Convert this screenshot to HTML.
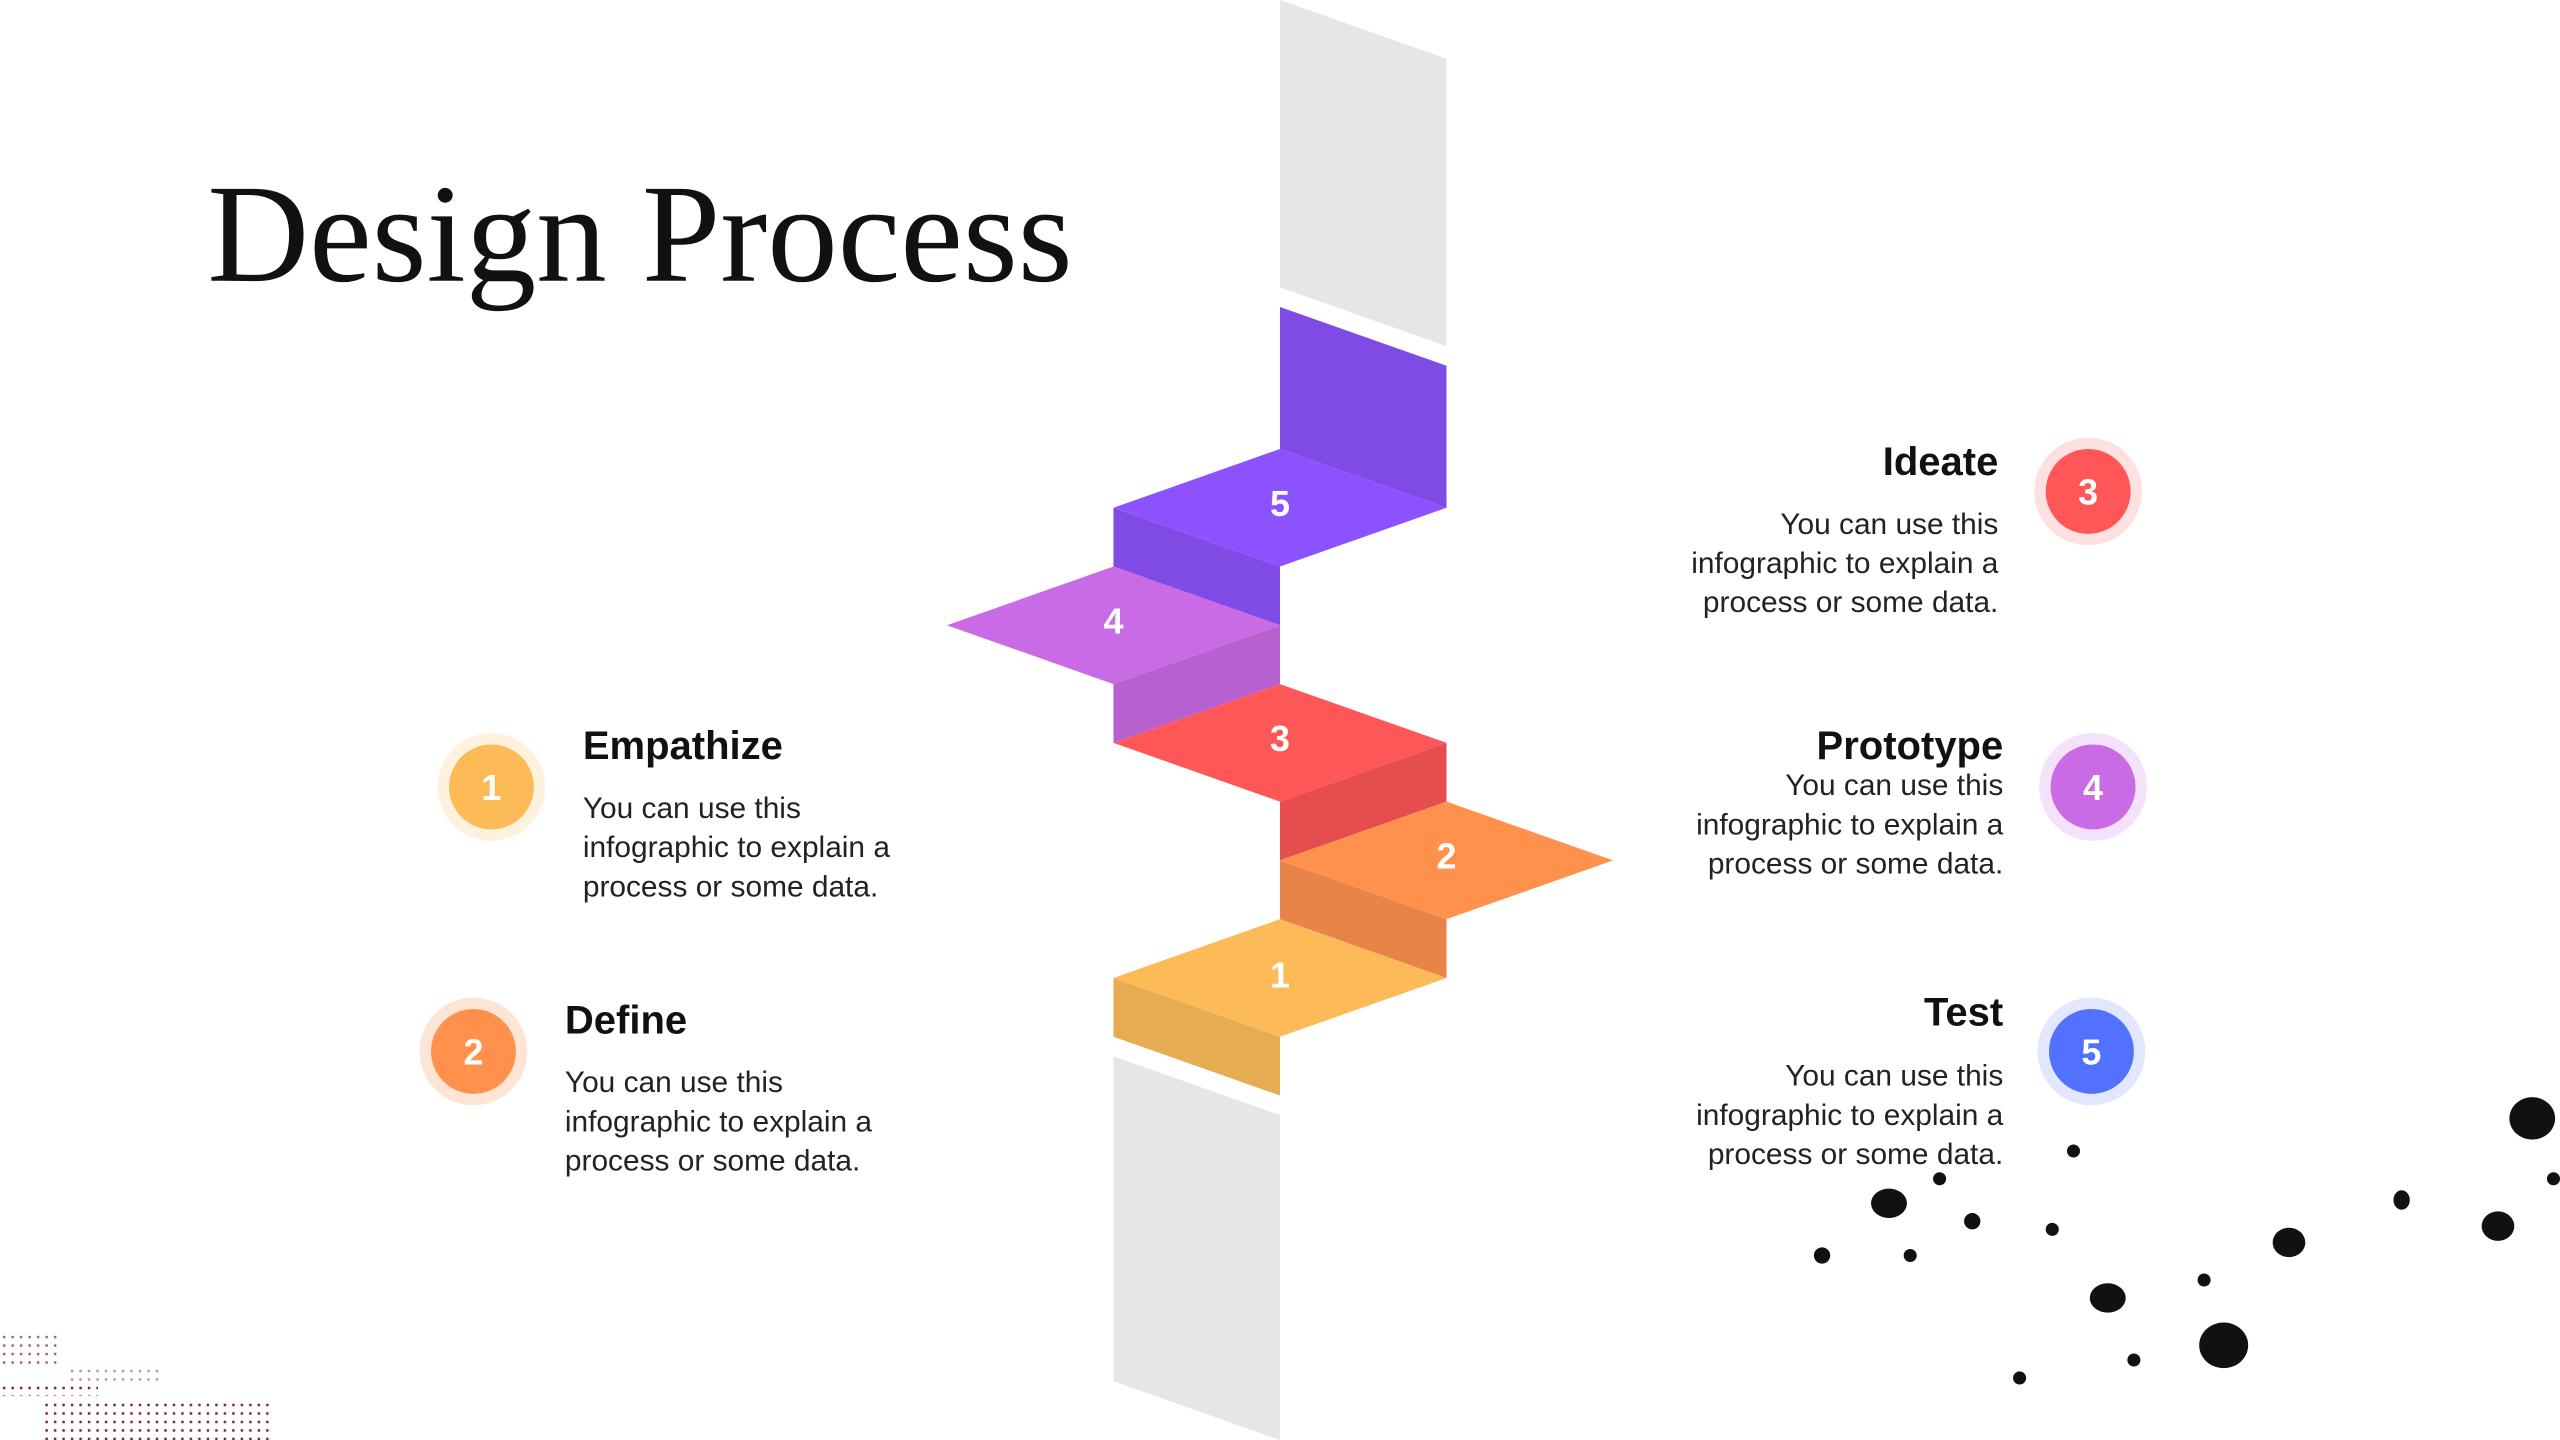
<!DOCTYPE html>
<html><head><meta charset="utf-8"><style>
html,body{margin:0;padding:0;background:#fff;}
svg{display:block;}
.h{font-family:"Liberation Sans",sans-serif;font-weight:bold;font-size:24.5px;fill:#111;}
.b{font-family:"Liberation Sans",sans-serif;font-size:18.3px;fill:#222;}
.n{font-family:"Liberation Sans",sans-serif;font-weight:bold;font-size:22px;fill:#fff;text-anchor:middle;}
</style></head><body>
<svg width="2560" height="1440" viewBox="0 0 1568 882" xmlns="http://www.w3.org/2000/svg">
<defs>
<pattern id="dp" width="5.2" height="5.2" patternUnits="userSpaceOnUse">
<rect x="1.8" y="1.8" width="1.5" height="1.5" fill="#7a1f3d"/>
</pattern>
</defs>
<rect width="1568" height="882" fill="#fff"/>
<text x="127" y="172" font-family="'Liberation Serif',serif" font-size="86" fill="#111" textLength="530" lengthAdjust="spacingAndGlyphs">Design Process</text>

<polygon points="784,0 886,36 886,212 784,176" fill="#e6e6e6"/>
<polygon points="682,647 784,683 784,882 682,846" fill="#e6e6e6"/>

<polygon points="784,188 886,224 886,311 784,275" fill="#804be4"/>
<polygon points="682,311 784,347 784,383 682,347" fill="#804be4"/>
<polygon points="682,311 784,275 886,311 784,347" fill="#8c52ff"/>
<polygon points="682,419 784,383 784,419 682,455" fill="#b761d1"/>
<polygon points="580,383 682,347 784,383 682,419" fill="#c96be5"/>
<polygon points="784,491 886,455 886,491 784,527" fill="#e64d4f"/>
<polygon points="682,455 784,419 886,455 784,491" fill="#ff5757"/>
<polygon points="784,527 886,563 886,599 784,563" fill="#e88447"/>
<polygon points="784,527 886,491 988,527 886,563" fill="#ff914d"/>
<polygon points="682,599 784,635 784,671 682,635" fill="#e6ac52"/>
<polygon points="682,599 784,563 886,599 784,635" fill="#fdbb58"/>
<text class="n" x="784" y="316">5</text>
<text class="n" x="682" y="388">4</text>
<text class="n" x="784" y="460">3</text>
<text class="n" x="886" y="532">2</text>
<text class="n" x="784" y="605">1</text>

<circle cx="301" cy="482" r="33" fill="#fef1dd"/><circle cx="301" cy="482" r="26" fill="#fdbb58"/><text class="n" x="301" y="490">1</text>
<circle cx="290" cy="644" r="33" fill="#fde5d6"/><circle cx="290" cy="644" r="26" fill="#ff914d"/><text class="n" x="290" y="652">2</text>
<circle cx="1279" cy="301" r="33" fill="#fde0e0"/><circle cx="1279" cy="301" r="26" fill="#ff5757"/><text class="n" x="1279" y="309">3</text>
<circle cx="1282" cy="482" r="33" fill="#f3e2f9"/><circle cx="1282" cy="482" r="26" fill="#c96be5"/><text class="n" x="1282" y="490">4</text>
<circle cx="1281" cy="644" r="33" fill="#e2e7fd"/><circle cx="1281" cy="644" r="26" fill="#5271ff"/><text class="n" x="1281" y="652">5</text>

<text class="h" x="357" y="465">Empathize</text>
<text class="b" x="357" y="501">You can use this</text>
<text class="b" x="357" y="525">infographic to explain a</text>
<text class="b" x="357" y="549">process or some data.</text>
<text class="h" x="346" y="633">Define</text>
<text class="b" x="346" y="669">You can use this</text>
<text class="b" x="346" y="693">infographic to explain a</text>
<text class="b" x="346" y="717">process or some data.</text>

<g text-anchor="end">
<text class="h" x="1224" y="291">Ideate</text>
<text class="b" x="1224" y="327">You can use this</text>
<text class="b" x="1224" y="351">infographic to explain a</text>
<text class="b" x="1224" y="375">process or some data.</text>
<text class="h" x="1227" y="465">Prototype</text>
<text class="b" x="1227" y="487">You can use this</text>
<text class="b" x="1227" y="511">infographic to explain a</text>
<text class="b" x="1227" y="535">process or some data.</text>
<text class="h" x="1227" y="628">Test</text>
<text class="b" x="1227" y="665">You can use this</text>
<text class="b" x="1227" y="689">infographic to explain a</text>
<text class="b" x="1227" y="713">process or some data.</text>
</g>

<g fill="#111">
<ellipse cx="1551" cy="685" rx="14" ry="13"/>
<circle cx="1564" cy="722" r="4"/>
<circle cx="1270" cy="705" r="4"/>
<circle cx="1188" cy="722" r="4"/>
<ellipse cx="1157" cy="737" rx="11" ry="9"/>
<circle cx="1208" cy="748" r="5"/>
<circle cx="1116" cy="769" r="5"/>
<circle cx="1170" cy="769" r="4"/>
<circle cx="1257" cy="753" r="4"/>
<ellipse cx="1402" cy="761" rx="10" ry="9"/>
<ellipse cx="1471" cy="735" rx="5" ry="6"/>
<ellipse cx="1530" cy="751" rx="10" ry="9"/>
<circle cx="1350" cy="784" r="4"/>
<ellipse cx="1291" cy="795" rx="11" ry="9"/>
<ellipse cx="1362" cy="824" rx="15" ry="14"/>
<circle cx="1307" cy="833" r="4"/>
<circle cx="1237" cy="844" r="4"/>
</g>

<polygon points="26,858 165,858 165,882 26,882" fill="url(#dp)"/>
<polygon points="0,816 36,816 36,836 0,836" fill="url(#dp)" opacity="0.7"/>
<polygon points="0,848 60,848 60,855 0,855" fill="url(#dp)"/>
<polygon points="40,836 100,836 100,848 40,848" fill="url(#dp)" opacity="0.5"/>
</svg>
</body></html>
